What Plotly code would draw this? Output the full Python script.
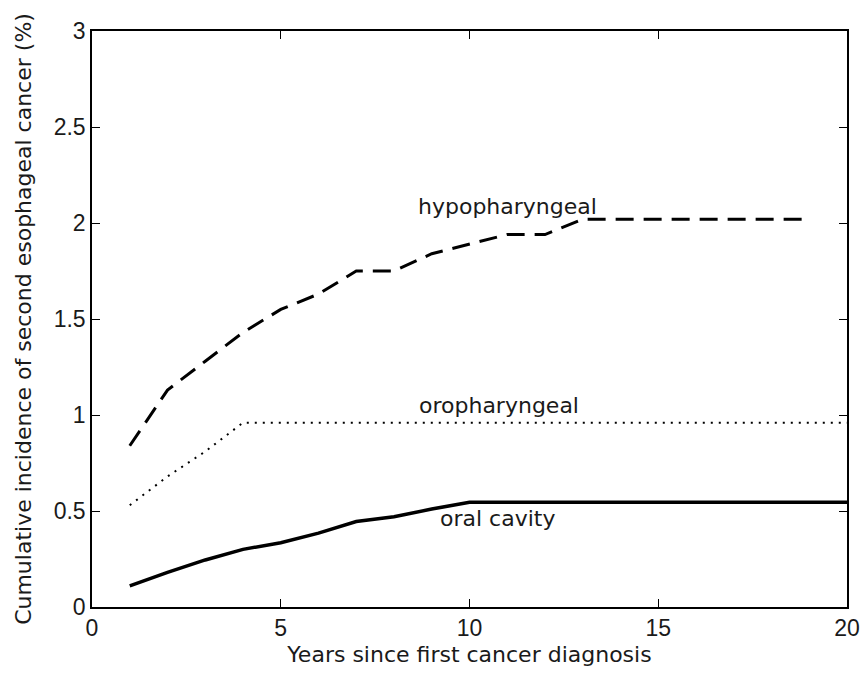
import plotly.graph_objects as go

years_hypo = [1, 2, 3, 4, 5, 6, 7, 8, 9, 10, 11, 12, 13, 19]
hypo = [0.84, 1.13, 1.28, 1.43, 1.55, 1.63, 1.75, 1.75, 1.84, 1.89, 1.94, 1.94, 2.02, 2.02]

years_oro = [1, 2, 3, 4, 20]
oro = [0.53, 0.68, 0.81, 0.96, 0.96]

years_oral = [1, 2, 3, 4, 5, 6, 7, 8, 9, 10, 20]
oral = [0.11, 0.18, 0.245, 0.30, 0.335, 0.385, 0.445, 0.47, 0.51, 0.545, 0.545]

labels = ["hypopharyngeal", "oropharyngeal", "oral cavity"]
label_x = [8.57, 8.61, 9.16]
label_y = [2.085, 1.05, 0.46]

x_ticks = [0, 5, 10, 15, 20]
y_ticks = [0, 0.5, 1, 1.5, 2, 2.5, 3]
y_tick_text = ["0", "0.5", "1", "1.5", "2", "2.5", "3"]

TEXT_FONT = "DejaVu Sans, sans-serif"
TICK_FONT = "Liberation Sans, Arial, sans-serif"
FS = 22
TEXT_COLOR = "#1a1a1a"

fig = go.Figure()
fig.add_trace(go.Scatter(x=years_hypo, y=hypo, mode="lines",
                         line=dict(color="black", width=3, dash="18px,10px")))
fig.add_trace(go.Scatter(x=years_oro, y=oro, mode="lines",
                         line=dict(color="black", width=2, dash="2px,6px")))
fig.add_trace(go.Scatter(x=years_oral, y=oral, mode="lines",
                         line=dict(color="black", width=3.5)))

for t, lx, ly in zip(labels, label_x, label_y):
    fig.add_annotation(x=lx, y=ly, text=t, showarrow=False, xanchor="left",
                       yanchor="middle", font=dict(size=FS, color=TEXT_COLOR, family=TEXT_FONT))

axis_common = dict(showgrid=False, zeroline=False, showline=True, linecolor="black",
                   linewidth=1.5, mirror="allticks", ticks="inside", ticklen=8,
                   tickcolor="black", tickwidth=1, automargin=False,
                   tickfont=dict(size=23, color=TEXT_COLOR, family=TICK_FONT))

fig.update_xaxes(range=[0, 20], tickvals=x_ticks, **axis_common,
                 title=dict(text="Years since first cancer diagnosis",
                            font=dict(size=FS, color=TEXT_COLOR, family=TEXT_FONT), standoff=6))
fig.update_yaxes(range=[0, 3], tickvals=y_ticks, ticktext=y_tick_text, **axis_common,
                 title=dict(text="Cumulative incidence of second esophageal cancer (%)",
                            font=dict(size=FS, color=TEXT_COLOR, family=TEXT_FONT), standoff=16))

fig.update_layout(width=865, height=674, showlegend=False,
                  plot_bgcolor="white", paper_bgcolor="white",
                  margin=dict(l=92, r=18, t=31, b=67))

fig.write_html("out.html", config={"displayModeBar": False},
               post_script="document.body.style.margin='0';document.body.style.overflow='hidden';")
